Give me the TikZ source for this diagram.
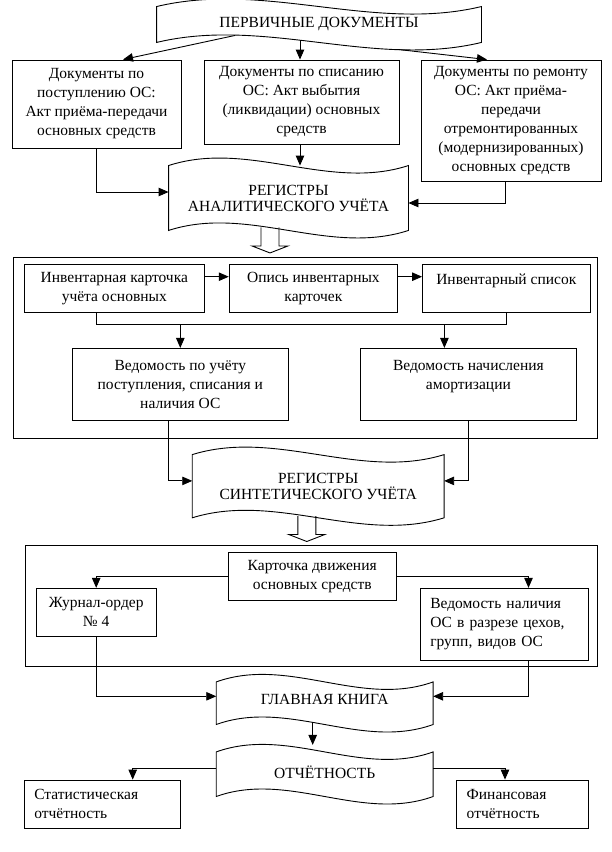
\documentclass[tikz,border=0pt]{standalone}
\usepackage{fontspec}
\setmainfont{Liberation Serif}
\usetikzlibrary{arrows.meta}
\usetikzlibrary{calc,positioning}

\newcommand{\wavedraw}[2][26]{%
  \draw (#2.north west) .. controls ($(#2.north west)!1/3!(#2.north east)+(0,-#1)$) and ($(#2.north west)!2/3!(#2.north east)+(0,#1)$) .. (#2.north east)
    -- (#2.south east) .. controls ($(#2.south west)!2/3!(#2.south east)+(0,#1)$) and ($(#2.south west)!1/3!(#2.south east)+(0,-#1)$) .. (#2.south west) -- cycle;}

\begin{document}
\begin{tikzpicture}[x=1pt, y=-1pt, line width=0.9pt, font=\fontsize{15.5pt}{19pt}\selectfont,
        box/.style={draw, rectangle, align=center, inner sep=0pt},
        lbox/.style={box, align=left, text width=#1},
        frame/.style={draw, rectangle, inner sep=0pt},
        wave/.style={rectangle, inner sep=0pt, font=\fontsize{15.5pt}{16pt}\selectfont},
        blockdown/.pic={\draw (-9,0) -- (-9,18.5) -- (-18,18.5) -- (0,25.5) -- (18,18.5) -- (9,18.5) -- (9,0);},
        >={Triangle[length=10pt,width=8.5pt]}]

        \useasboundingbox (0,0) rectangle (612,852);

        \node[wave, minimum width=324pt, minimum height=35pt] (perv) at (319,24.5) {ПЕРВИЧНЫЕ ДОКУМЕНТЫ};
        \wavedraw{perv}

        \node[box, minimum width=169pt, minimum height=88pt] (postup) at (96.5,104) {Документы по\\поступлению ОС:\\Акт приёма-передачи\\основных средств};
        \node[box, minimum width=195pt, minimum height=84pt] (spis) at (301.5,102) {Документы по списанию\\ОС: Акт выбытия\\(ликвидации) основных\\средств};
        \node[box, minimum width=180pt, minimum height=121pt] (remont) at (511,120.5) {Документы по ремонту\\ОС: Акт приёма-\\передачи\\отремонтированных\\(модернизированных)\\основных средств};

        \node[wave, align=center, minimum width=239pt, minimum height=64pt] (regA) at (288.5,198) {РЕГИСТРЫ\\АНАЛИТИЧЕСКОГО УЧЁТА};
        \wavedraw{regA}
        \pic at ([xshift=-18.5pt,yshift=3pt]regA.south) {blockdown};

        \node[frame, minimum width=584pt, minimum height=181pt] (grpA) at (305.3,347.8) {};
        \node[box, minimum width=180pt, minimum height=48pt] (inv1) at (114.3,288.2) {Инвентарная карточка\\учёта основных};
        \node[box, minimum width=168.4pt, minimum height=48pt, right=24pt of inv1] (inv2) {Опись инвентарных\\карточек};
        \node[box, minimum width=167.6pt, minimum height=48pt, right=24pt of inv2] (inv3) {Инвентарный список\\ \mbox{}};
        \node[box, minimum width=216pt, minimum height=71.7pt] (ved1) at (180.3,384.2) {Ведомость по учёту\\поступления, списания и\\наличия ОС};
        \node[box, minimum width=215.3pt, minimum height=71.7pt] (ved2) at (468.4,384.2) {Ведомость начисления\\амортизации\\ \mbox{}};

        \node[wave, align=center, minimum width=251pt, minimum height=62.3pt] (regS) at (318.2,486.2) {РЕГИСТРЫ\\СИНТЕТИЧЕСКОГО УЧЁТА};
        \wavedraw{regS}
        \pic at ([xshift=-11.4pt,yshift=1.8pt]regS.south) {blockdown};

        \node[frame, minimum width=571.3pt, minimum height=121pt] (grpB) at (311.4,605.8) {};
        \node[box, minimum width=167.7pt, minimum height=48pt] (kart) at (312.2,576.3) {Карточка движения\\основных средств};
        \node[box, minimum width=120.3pt, minimum height=48pt] (zhur) at (96.2,612.3) {Журнал-ордер\\№ 4};
        \node[lbox=148.4pt, minimum height=72pt, inner xsep=10pt] (ved3) at (504.5,624.3) {Ведомость наличия\\ОС в разрезе цехов,\\групп, видов ОС};

        \node[wave, text depth=7.6pt, minimum width=216pt, minimum height=41.7pt] (glav) at (324.7,703.2) {ГЛАВНАЯ КНИГА};
        \wavedraw{glav}
        \node[wave, text depth=4.6pt, minimum width=216pt, minimum height=43.7pt] (otch) at (324.7,774.2) {ОТЧЁТНОСТЬ};
        \wavedraw{otch}

        \node[lbox=136pt, minimum height=48.3pt, inner xsep=10pt] (stat) at (102.3,804.2) {Статистическая\\отчётность};
        \node[lbox=112pt, minimum height=48.3pt, inner xsep=10pt] (fin) at (522.7,804.2) {Финансовая\\отчётность};

        \draw[->] ([xshift=-84pt,yshift=7pt]perv.south) -- ([xshift=26.5pt]postup.north);
        \draw[->] ([xshift=-19pt,yshift=2pt]perv.south) -- ([xshift=-1.5pt]spis.north);
        \draw[->] ([xshift=79pt,yshift=-7pt]perv.south) -- ([xshift=-24pt]remont.north);
        \draw[->] (postup.south) |- ([yshift=6pt]regA.west);
        \draw[->] ([xshift=-1.5pt]spis.south) -- ([xshift=11.5pt]regA.north);
        \draw[->] ([xshift=-6pt]remont.south) |- ([yshift=-5pt]regA.east);

        \draw[->] ([yshift=11.5pt]inv1.east) -- ([yshift=11.5pt]inv2.west);
        \draw[->] ([yshift=11.5pt]inv2.east) -- ([yshift=11.5pt]inv3.west);
        \coordinate (bus) at ([xshift=-17.6pt,yshift=-11.7pt]inv1.south);
        \coordinate (v2in) at ([xshift=-24pt]ved2.north);
        \draw ([xshift=-17.6pt]inv1.south) -- (bus) -| (inv3.south);
        \draw[->] (bus -| ved1.north) -- (ved1.north);
        \draw[->] (bus -| v2in) -- (v2in);
        \draw[->] ([xshift=-12pt]ved1.south) |- ([yshift=5.3pt]regS.west);
        \draw[->] (ved2.south) |- ([yshift=5.3pt]regS.east);

        \draw[->] (kart.west) -| (zhur.north);
        \draw[->] (kart.east) -| ([xshift=24pt]ved3.north);
        \draw[->] (zhur.south) |- ([yshift=6.9pt]glav.west);
        \draw[->] ([xshift=24pt]ved3.south) |- ([yshift=6.9pt]glav.east);
        \draw[->] ([xshift=-12pt,yshift=2pt]glav.south) -- ([xshift=-12pt,yshift=7pt]otch.north);
        \draw[->] ([yshift=5.8pt]otch.west) -| ([xshift=30.4pt]stat.north);
        \draw[->] ([yshift=5.8pt]otch.east) -| ([xshift=-17.7pt]fin.north);

    \end{tikzpicture}
\end{document}
